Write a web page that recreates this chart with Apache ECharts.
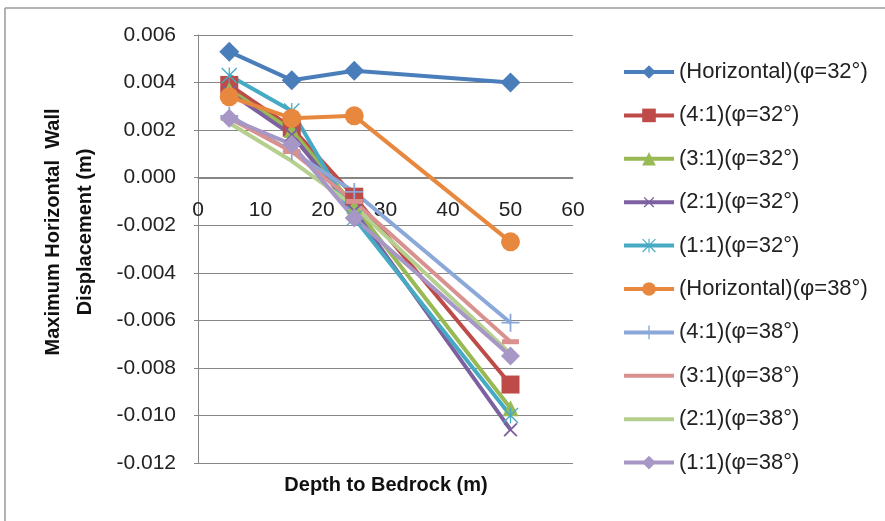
<!DOCTYPE html>
<html>
<head>
<meta charset="utf-8">
<script src="https://cdn.jsdelivr.net/npm/echarts@6/dist/echarts.min.js"></script>
<style>
  html, body { margin: 0; padding: 0; background: #fff; }
  #chart { width: 885px; height: 521px; }
</style>
</head>
<body>
<div id="chart"></div>
<script>
// Depth to bedrock (m)
const depths = [5, 15, 25, 50];

// Maximum horizontal wall displacement (m), friction angle 32°
const horiz32 = [0.0053, 0.0041, 0.0045, 0.0040];
const r41_32 = [0.0039, 0.0021, -0.0008, -0.0087];
const r31_32 = [0.0037, 0.0020, -0.0012, -0.0097];
const r21_32 = [0.0036, 0.0018, -0.0014, -0.0106];
const r11_32 = [0.0043, 0.0028, -0.0017, -0.0100];

// Friction angle 38°
const horiz38 = [0.0034, 0.0025, 0.0026, -0.0027];
const r41_38 = [0.0026, 0.0011, -0.0006, -0.0061];
const r31_38 = [0.0025, 0.0011, -0.0010, -0.0069];
const r21_38 = [0.0023, 0.0007, -0.0012, -0.0074];
const r11_38 = [0.0025, 0.0014, -0.0017, -0.0075];

const seriesNames = [
  '(Horizontal)(φ=32°)', '(4:1)(φ=32°)', '(3:1)(φ=32°)', '(2:1)(φ=32°)', '(1:1)(φ=32°)',
  '(Horizontal)(φ=38°)', '(4:1)(φ=38°)', '(3:1)(φ=38°)', '(2:1)(φ=38°)', '(1:1)(φ=38°)'
];
const seriesValues = [horiz32, r41_32, r31_32, r21_32, r11_32, horiz38, r41_38, r31_38, r21_38, r11_38];

// Marker shapes
const PLUS = 'path://M9 0H11V9H20V11H11V20H9V11H0V9H9Z';
const STAR = 'path://M9.2 0H10.8V20H9.2Z M0 1.2L1.2 0L20 18.8L18.8 20Z M18.8 0L20 1.2L1.2 20L0 18.8Z';
const DASH = 'path://M0 0H20V6H0Z';

const styles = [
  { color: '#4A7EBB', symbol: 'diamond', size: 20 },
  { color: '#BE4B48', symbol: 'rect', size: 18 },
  { color: '#98B954', symbol: 'triangle', size: 16 },
  { color: '#7D60A0', symbol: PLUS, size: 18, rotate: 45 },
  { color: '#46AAC5', symbol: STAR, size: 16 },
  { color: '#E8883E', symbol: 'circle', size: 19 },
  { color: '#8AA8D8', symbol: PLUS, size: 18 },
  { color: '#D99190', symbol: DASH, size: [17, 5], legendHidden: true },
  { color: '#B5CF8E', symbol: 'none', size: 0, legendHidden: true },
  { color: '#A797C6', symbol: 'diamond', size: 19 }
];

const series = seriesNames.map((name, i) => ({
  name: name,
  type: 'line',
  data: depths.map((d, j) => [d, seriesValues[i][j]]),
  symbol: styles[i].symbol,
  symbolSize: styles[i].size,
  symbolRotate: styles[i].rotate || 0,
  showSymbol: styles[i].symbol !== 'none',
  lineStyle: { color: styles[i].color, width: 4 },
  itemStyle: { color: styles[i].color, borderWidth: 0, opacity: 1 },
  emphasis: { disabled: true },
  animation: false
}));

const legendData = seriesNames.map((name, i) => ({
  name: name,
  itemStyle: { color: styles[i].color, opacity: styles[i].legendHidden ? 0 : 1, borderWidth: 0 },
  lineStyle: { color: styles[i].color, width: 4, opacity: 1 }
}));

const chart = echarts.init(document.getElementById('chart'), null, { renderer: 'canvas' });
const font = 'Liberation Sans, Arial, sans-serif';

chart.setOption({
  animation: false,
  backgroundColor: '#ffffff',
  grid: { left: 198, right: 312, top: 35, bottom: 58, containLabel: false },
  xAxis: {
    type: 'value',
    min: 0, max: 60, interval: 10,
    offset: -285,
    axisLine: { show: true, onZero: false, lineStyle: { color: '#868686', width: 1 } },
    axisTick: { show: false },
    splitLine: { show: false },
    axisLabel: { color: '#222', fontFamily: font, fontSize: 21, margin: 22 }
  },
  yAxis: {
    type: 'value',
    min: -0.012, max: 0.006, interval: 0.002,
    axisLine: { show: true, lineStyle: { color: '#868686', width: 1 } },
    axisTick: { show: true, length: 4, inside: false, lineStyle: { color: '#868686' } },
    splitLine: { show: true, lineStyle: { color: '#868686', width: 1 } },
    axisLabel: {
      color: '#222', fontFamily: font, fontSize: 21, margin: 22,
      formatter: v => v.toFixed(3)
    }
  },
  legend: {
    orient: 'vertical',
    left: 622, top: 60, padding: 0,
    itemWidth: 50, itemHeight: 17, itemGap: 19.4,
    iconRotate: 'inherit',
    data: legendData,
    textStyle: { color: '#222', fontFamily: font, fontSize: 22, lineHeight: 24 },
    selectedMode: false
  },
  graphic: [
    { type: 'line', shape: { x1: 5, y1: 8, x2: 885, y2: 8 }, style: { stroke: '#9a9a9a', lineWidth: 1.5 } },
    { type: 'line', shape: { x1: 5, y1: 8, x2: 5, y2: 521 }, style: { stroke: '#9a9a9a', lineWidth: 1.5 } },
    {
      type: 'text', x: 69, y: 232, rotation: Math.PI / 2,
      style: {
        text: 'Maximum Horizontal  Wall\nDisplacement (m)',
        font: 'bold 20px ' + font, fill: '#111',
        align: 'center', verticalAlign: 'middle', lineHeight: 32
      }
    },
    {
      type: 'text', x: 386, y: 485,
      style: {
        text: 'Depth to Bedrock (m)',
        font: 'bold 20px ' + font, fill: '#111',
        align: 'center', verticalAlign: 'middle'
      }
    }
  ],
  series: series
});
</script>
</body>
</html>
